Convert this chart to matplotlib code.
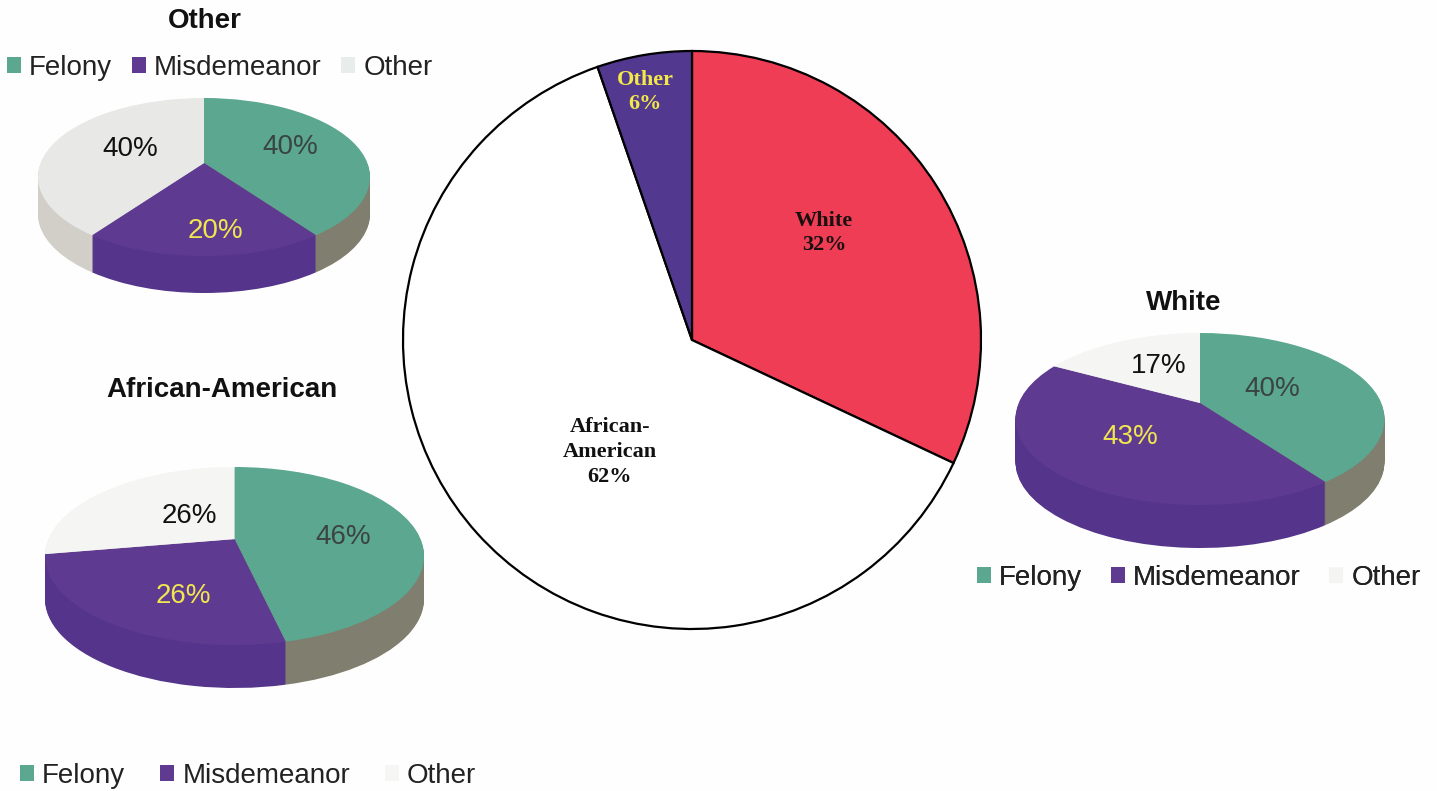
#!/usr/bin/python3

import numpy as np
import matplotlib
matplotlib.use("Agg")
import matplotlib.pyplot as plt
from matplotlib.patches import Patch

plt.rcParams["font.family"] = ["Liberation Sans", "DejaVu Sans"]

# data (printed percentages, and the slice sizes as drawn
# where those differ a little from the printed numbers)
race_labels = ["White", "African-\nAmerican", "Other"]
race_values = [32, 62, 6]
race_slices = [32, 62.7, 5.3]
offence_labels = ["Felony", "Misdemeanor", "Other"]
other_values = [40, 20, 40]
african_american_values = [46, 26, 26]
african_american_slices = [46.4, 25.9, 27.7]
white_values = [40, 43, 17]

# colours
FELONY, MISDEMEANOR = "#5ba78f", "#5e3b91"
WALL_COLORS = ["#807e6e", "#55358b", "#d2cfc9"]
RACE_COLORS = ["#ee3d55", "#ffffff", "#52388f"]
W, H = 1437, 791


def px(x, y):
    # the axes runs in image pixels, y flipped so that pie angles stay right
    return x, H - y


fig = plt.figure(figsize=(W / 100, H / 100), dpi=100, facecolor="#fefefe")
ax = fig.add_axes([0, 0, 1, 1])


def tilted_pie(values, other_color, cx, cy, rx, ry, apex_shift, depth):
    # one flat pie per layer, pushed through a projective map so the middle
    # of the disc sits above the middle of the ellipse, as in a 3D chart
    for off in list(range(depth, 0, -1)) + [0]:
        colors = [FELONY, MISDEMEANOR, other_color] if off == 0 else WALL_COLORS
        wedges, _ = ax.pie(values, colors=colors, startangle=90, counterclock=False,
                           radius=1, center=(0, 0), wedgeprops=dict(linewidth=0))
        for wedge in wedges:
            verts = wedge.get_path().vertices
            u, v = verts[:, 0].copy(), verts[:, 1].copy()
            w = 1 + apex_shift * v
            verts[:, 0] = cx + rx * np.sqrt(1 - apex_shift**2) * u / w
            verts[:, 1] = (H - cy) + ry * (v + apex_shift) / w - off
            wedge.set_zorder(2 + (depth - off) * 0.001)


tilted_pie(other_values, "#e8e8e6", 204, 177, 166, 79, 0.177, 37)
tilted_pie(african_american_slices, "#f5f5f3", 234.5, 556, 189.5, 89, 0.19, 43)
tilted_pie(white_values, "#f5f5f3", 1200, 419, 184.5, 86, 0.186, 43)

# the big flat pie in the middle
big, _ = ax.pie(race_slices, colors=RACE_COLORS, startangle=90, counterclock=False,
                radius=289, center=px(692, 340),
                wedgeprops=dict(edgecolor="black", linewidth=1.6))
for wedge in big:
    wedge.set_zorder(2)

ax.set_aspect("auto")
ax.set_xlim(0, W)
ax.set_ylim(0, H)
ax.axis("off")

# big pie labels
serif = dict(family="Liberation Serif", fontweight="bold", fontsize=16,
             ha="center", va="center", linespacing=1.3, zorder=5)
ax.text(*px(824, 233), "%s\n%d%%" % (race_labels[0], race_values[0]), color="#1a1010", **serif)
ax.text(*px(610, 452), "%s\n%d%%" % (race_labels[1], race_values[1]), color="#111111", **serif)
ax.text(*px(645, 92), "%s\n%d%%" % (race_labels[2], race_values[2]), color="#f2e84a", **serif)

# percentages on the small pies
pct = dict(fontsize=20, ha="center", va="center", zorder=5)
for vals, spots in [
    (other_values, [(290, 147), (215, 231), (130, 149)]),
    (african_american_values, [(343, 537), (183, 596), (189, 516)]),
    (white_values, [(1272, 389), (1130, 437), (1159, 366)]),
]:
    for val, spot, col in zip(vals, spots, ["#3a4442", "#f2e650", "#111111"]):
        ax.text(*px(*spot), "%d%%" % val, color=col, **pct)

# titles
title = dict(fontsize=20, fontweight="bold", ha="center", va="center", color="#111111", zorder=5)
ax.text(*px(205, 21), "Other", **title)
ax.text(*px(222, 390), "African-American", **title)
ax.text(*px(1184, 303), "White", **title)

# the three legends
for x, y, gap, faint in [(7, 68, 0.7, "#e8ecea"), (20, 776, 1.25, "#f6f6f4"), (977, 578, 1.02, "#f4f4f2")]:
    handles = [Patch(facecolor=c, edgecolor="none") for c in [FELONY, MISDEMEANOR, faint]]
    leg = ax.legend(handles, offence_labels, ncol=3, loc="center left",
                    bbox_to_anchor=px(x, y), bbox_transform=ax.transData,
                    frameon=False, fontsize=20, borderpad=0, borderaxespad=0,
                    handlelength=0.5, handleheight=0.5, handletextpad=0.3,
                    columnspacing=gap, labelcolor="#222222")
    ax.add_artist(leg)

fig.savefig("out.png", dpi=100, facecolor=fig.get_facecolor())
